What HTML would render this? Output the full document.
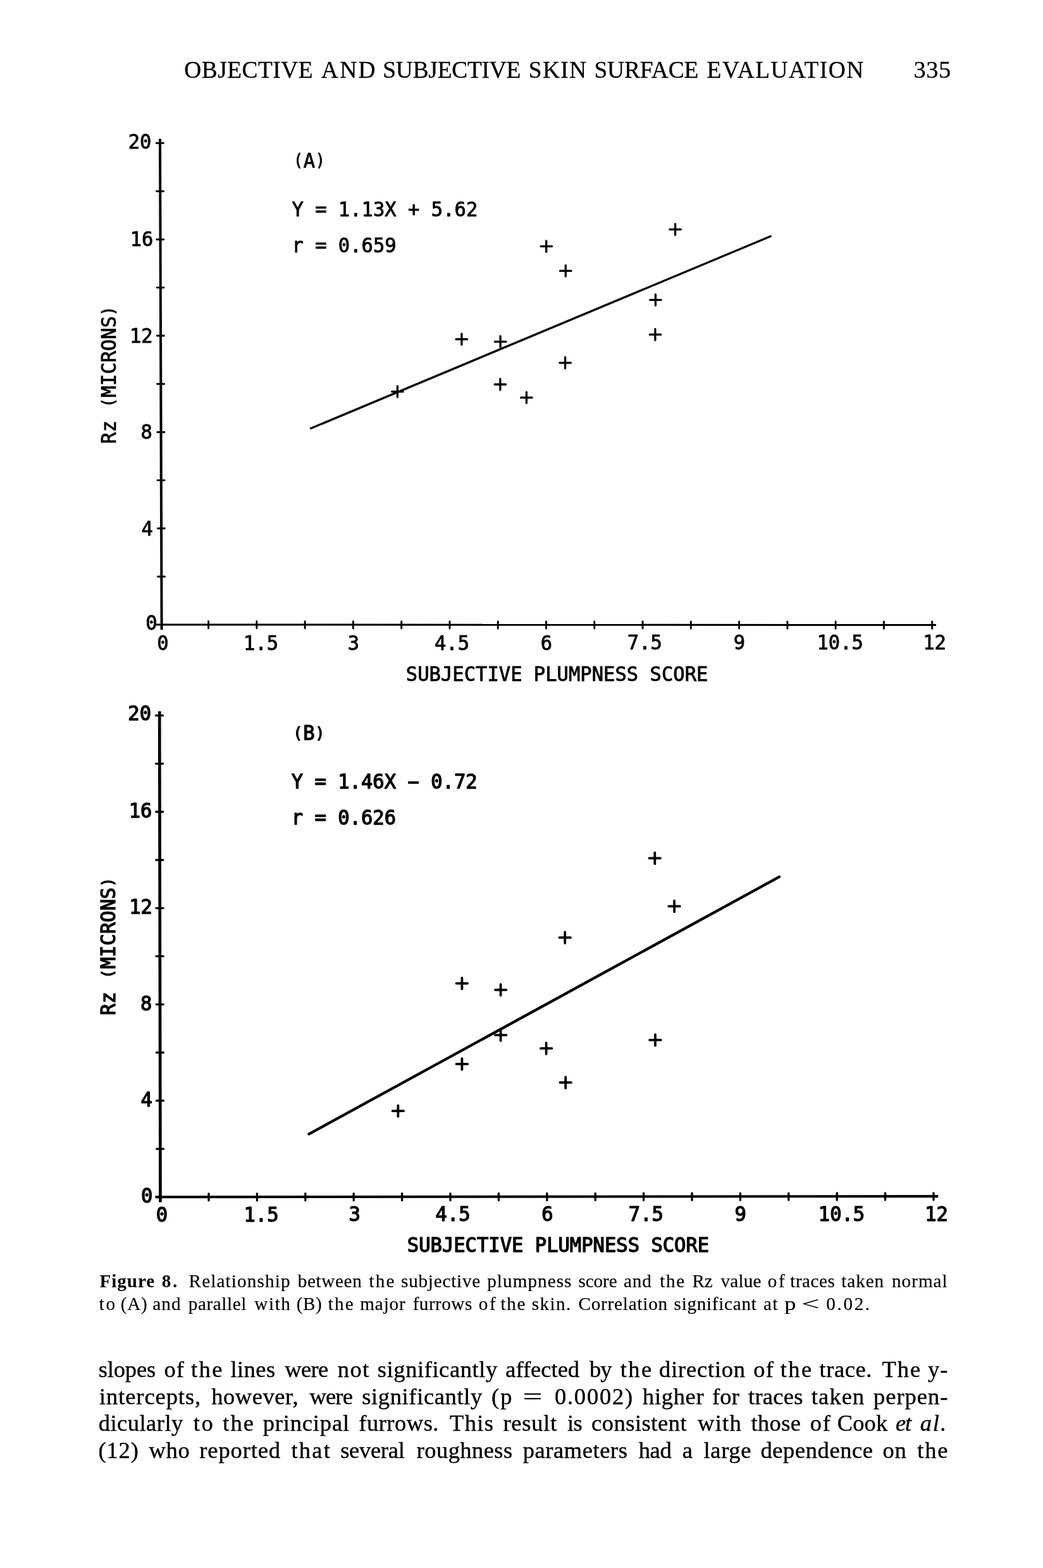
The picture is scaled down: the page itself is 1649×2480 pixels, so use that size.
<!DOCTYPE html>
<html lang="en">
<head>
<meta charset="utf-8">
<title>Objective and Subjective Skin Surface Evaluation - page 335</title>
<style>
html, body { margin: 0; padding: 0; background: #fff; }
body { width: 1649px; height: 2480px; position: relative; overflow: hidden; color: #000;
       font-family: "Liberation Serif", "DejaVu Serif", serif; }
.plots { position: absolute; left: 0; top: 0; display: block; }
.ln { position: absolute; margin: 0; padding: 0; white-space: nowrap; font-size: 0;
      line-height: 1; -webkit-text-stroke: 0.42px #000; }
.ln > * { display: inline-block; line-height: 1; vertical-align: baseline; white-space: pre; }
.ln b { font-weight: bold; }
.ln i { font-style: italic; }
.hd, .pg { -webkit-text-stroke: 0.3px #000; }
.cap { -webkit-text-stroke: 0.2px #000; }
.cap b { -webkit-text-stroke: 0; }
.hd > * { font-size: 37.4px; }
.pg > * { font-size: 38.5px; }
.cap > * { font-size: 29.2px; }
.bd > * { font-size: 36.5px; }
header, figure, figcaption, section { display: block; margin: 0; padding: 0; }

</style>
</head>
<body>
<header class="header">
<p class="ln hd" style="left:291.3px;top:91.58px"><span style="width:216.5px;letter-spacing:0.49px">OBJECTIVE</span> <span style="width:97.5px;letter-spacing:2.35px">AND</span> <span style="width:230.5px;letter-spacing:-0.23px">SUBJECTIVE</span> <span style="width:103.6px;letter-spacing:1.33px">SKIN</span> <span style="width:178.2px;letter-spacing:-0.10px">SURFACE</span> <span style="letter-spacing:1.53px">EVALUATION</span></p>
<p class="ln pg" style="left:1444.5px;top:91.36px"><span style="letter-spacing:0.45px">335</span></p>
</header>
<figure>
<svg class="plots" width="1649" height="2480" viewBox="0 0 1649 2480" font-family='"DejaVu Sans Mono", "Liberation Mono", monospace' fill="#000" stroke="#000" stroke-linejoin="round">
<g aria-label="Plot A">
<line x1="253.00" y1="219.50" x2="255.60" y2="996.00" stroke-width="4.0" stroke-linecap="butt"/>
<line x1="247.00" y1="988.00" x2="1480.00" y2="988.50" stroke-width="3.0" stroke-linecap="butt"/>
<line x1="247.27" y1="226.30" x2="258.27" y2="226.30" stroke-width="2.9" stroke-linecap="round"/>
<line x1="247.53" y1="302.49" x2="258.53" y2="302.49" stroke-width="2.9" stroke-linecap="round"/>
<line x1="247.78" y1="378.68" x2="258.78" y2="378.68" stroke-width="2.9" stroke-linecap="round"/>
<line x1="248.04" y1="454.87" x2="259.04" y2="454.87" stroke-width="2.9" stroke-linecap="round"/>
<line x1="248.29" y1="531.06" x2="259.29" y2="531.06" stroke-width="2.9" stroke-linecap="round"/>
<line x1="248.55" y1="607.25" x2="259.55" y2="607.25" stroke-width="2.9" stroke-linecap="round"/>
<line x1="248.80" y1="683.44" x2="259.80" y2="683.44" stroke-width="2.9" stroke-linecap="round"/>
<line x1="249.06" y1="759.63" x2="260.06" y2="759.63" stroke-width="2.9" stroke-linecap="round"/>
<line x1="249.31" y1="835.82" x2="260.31" y2="835.82" stroke-width="2.9" stroke-linecap="round"/>
<line x1="249.57" y1="912.01" x2="260.57" y2="912.01" stroke-width="2.9" stroke-linecap="round"/>
<line x1="329.58" y1="982.78" x2="329.58" y2="993.78" stroke-width="2.9" stroke-linecap="round"/>
<line x1="405.85" y1="982.81" x2="405.85" y2="993.81" stroke-width="2.9" stroke-linecap="round"/>
<line x1="482.12" y1="982.85" x2="482.12" y2="993.85" stroke-width="2.9" stroke-linecap="round"/>
<line x1="558.40" y1="982.88" x2="558.40" y2="993.88" stroke-width="2.9" stroke-linecap="round"/>
<line x1="634.67" y1="982.91" x2="634.67" y2="993.91" stroke-width="2.9" stroke-linecap="round"/>
<line x1="710.95" y1="982.94" x2="710.95" y2="993.94" stroke-width="2.9" stroke-linecap="round"/>
<line x1="787.23" y1="982.97" x2="787.23" y2="993.97" stroke-width="2.9" stroke-linecap="round"/>
<line x1="863.50" y1="983.00" x2="863.50" y2="994.00" stroke-width="2.9" stroke-linecap="round"/>
<line x1="939.78" y1="983.03" x2="939.78" y2="994.03" stroke-width="2.9" stroke-linecap="round"/>
<line x1="1016.05" y1="983.06" x2="1016.05" y2="994.06" stroke-width="2.9" stroke-linecap="round"/>
<line x1="1092.33" y1="983.09" x2="1092.33" y2="994.09" stroke-width="2.9" stroke-linecap="round"/>
<line x1="1168.60" y1="983.12" x2="1168.60" y2="994.12" stroke-width="2.9" stroke-linecap="round"/>
<line x1="1244.88" y1="983.15" x2="1244.88" y2="994.15" stroke-width="2.9" stroke-linecap="round"/>
<line x1="1321.15" y1="983.19" x2="1321.15" y2="994.19" stroke-width="2.9" stroke-linecap="round"/>
<line x1="1397.42" y1="983.22" x2="1397.42" y2="994.22" stroke-width="2.9" stroke-linecap="round"/>
<line x1="1473.70" y1="983.25" x2="1473.70" y2="994.25" stroke-width="2.9" stroke-linecap="round"/>
<text transform="translate(221.00 234.60) scale(0.9477 1)" text-anchor="middle" font-size="32.2" stroke-width="0.90" style="white-space:pre">20</text>
<text transform="translate(224.00 388.90) scale(0.9477 1)" text-anchor="middle" font-size="32.2" stroke-width="0.90" style="white-space:pre">16</text>
<text transform="translate(223.30 541.70) scale(0.9477 1)" text-anchor="middle" font-size="32.2" stroke-width="0.90" style="white-space:pre">12</text>
<text transform="translate(231.60 694.10) scale(0.9477 1)" text-anchor="middle" font-size="32.2" stroke-width="0.90" style="white-space:pre">8</text>
<text transform="translate(232.70 846.60) scale(0.9477 1)" text-anchor="middle" font-size="32.2" stroke-width="0.90" style="white-space:pre">4</text>
<text transform="translate(239.40 996.30) scale(0.9477 1)" text-anchor="middle" font-size="32.2" stroke-width="0.90" style="white-space:pre">0</text>
<text transform="translate(257.40 1027.50) scale(0.9477 1)" text-anchor="middle" font-size="32.2" stroke-width="0.90" style="white-space:pre">0</text>
<text transform="translate(412.60 1027.50) scale(0.9477 1)" text-anchor="middle" font-size="32.2" stroke-width="0.90" style="white-space:pre">1.5</text>
<text transform="translate(558.90 1027.80) scale(0.9477 1)" text-anchor="middle" font-size="32.2" stroke-width="0.90" style="white-space:pre">3</text>
<text transform="translate(714.50 1027.80) scale(0.9477 1)" text-anchor="middle" font-size="32.2" stroke-width="0.90" style="white-space:pre">4.5</text>
<text transform="translate(863.90 1027.80) scale(0.9477 1)" text-anchor="middle" font-size="32.2" stroke-width="0.90" style="white-space:pre">6</text>
<text transform="translate(1019.40 1027.40) scale(0.9477 1)" text-anchor="middle" font-size="32.2" stroke-width="0.90" style="white-space:pre">7.5</text>
<text transform="translate(1169.00 1027.40) scale(0.9477 1)" text-anchor="middle" font-size="32.2" stroke-width="0.90" style="white-space:pre">9</text>
<text transform="translate(1328.20 1026.80) scale(0.9477 1)" text-anchor="middle" font-size="32.2" stroke-width="0.90" style="white-space:pre">10.5</text>
<text transform="translate(1477.50 1026.80) scale(0.9477 1)" text-anchor="middle" font-size="32.2" stroke-width="0.90" style="white-space:pre">12</text>
<text transform="translate(880.60 1077.40) scale(0.9477 1)" text-anchor="middle" font-size="32.2" stroke-width="0.90" style="white-space:pre">SUBJECTIVE PLUMPNESS SCORE</text>
<text transform="translate(182.60 593.20) rotate(-90) scale(0.9477 1)" text-anchor="middle" font-size="32.2" stroke-width="0.90" style="white-space:pre">Rz <tspan font-size="25.8" dx="2.9" dy="-2.6">(</tspan><tspan dx="1.0" dy="2.6">MICRONS</tspan><tspan font-size="25.8" dx="0.8" dy="-2.6">)</tspan></text>
<text transform="translate(461.40 265.00) scale(0.9477 1)" text-anchor="start" font-size="32.2" stroke-width="0.90" style="white-space:pre"><tspan font-size="25.8" dx="2.9" dy="-2.6">(</tspan><tspan dx="1.0" dy="2.6">A</tspan><tspan font-size="25.8" dx="0.8" dy="-2.6">)</tspan></text>
<text transform="translate(461.40 342.00) scale(0.9477 1)" text-anchor="start" font-size="32.2" stroke-width="0.90" style="white-space:pre">Y = 1.13X + 5.62</text>
<text transform="translate(461.40 399.40) scale(0.9477 1)" text-anchor="start" font-size="32.2" stroke-width="0.90" style="white-space:pre">r = 0.659</text>
<line x1="491.50" y1="677.50" x2="1218.20" y2="373.70" stroke-width="3.4" stroke-linecap="round"/>
<path d="M619.6 619.4H637.1M628.4 610.6V628.1" stroke-width="3.3" stroke-linecap="round"/>
<path d="M721.1 536.5H738.6M729.9 527.8V545.2" stroke-width="3.3" stroke-linecap="round"/>
<path d="M782.4 540.4H799.9M791.1 531.6V549.1" stroke-width="3.3" stroke-linecap="round"/>
<path d="M782.1 608.0H799.6M790.9 599.2V616.8" stroke-width="3.3" stroke-linecap="round"/>
<path d="M823.6 628.9H841.1M832.4 620.1V637.6" stroke-width="3.3" stroke-linecap="round"/>
<path d="M855.0 389.6H872.5M863.7 380.9V398.4" stroke-width="3.3" stroke-linecap="round"/>
<path d="M885.5 428.4H903.0M894.3 419.6V437.1" stroke-width="3.3" stroke-linecap="round"/>
<path d="M1058.8 362.9H1076.3M1067.6 354.1V371.6" stroke-width="3.3" stroke-linecap="round"/>
<path d="M1027.7 474.3H1045.2M1036.4 465.6V483.1" stroke-width="3.3" stroke-linecap="round"/>
<path d="M1027.2 529.2H1044.7M1035.9 520.5V538.0" stroke-width="3.3" stroke-linecap="round"/>
<path d="M884.9 573.8H902.4M893.6 565.0V582.5" stroke-width="3.3" stroke-linecap="round"/>
</g>
<g aria-label="Plot B">
<line x1="252.20" y1="1125.00" x2="253.50" y2="1901.50" stroke-width="4.7" stroke-linecap="butt"/>
<line x1="245.50" y1="1893.20" x2="1483.20" y2="1892.10" stroke-width="4.1" stroke-linecap="butt"/>
<line x1="246.46" y1="1131.70" x2="257.46" y2="1131.70" stroke-width="3.3" stroke-linecap="round"/>
<line x1="246.59" y1="1207.85" x2="257.59" y2="1207.85" stroke-width="3.3" stroke-linecap="round"/>
<line x1="246.72" y1="1284.00" x2="257.72" y2="1284.00" stroke-width="3.3" stroke-linecap="round"/>
<line x1="246.84" y1="1360.15" x2="257.84" y2="1360.15" stroke-width="3.3" stroke-linecap="round"/>
<line x1="246.97" y1="1436.30" x2="257.97" y2="1436.30" stroke-width="3.3" stroke-linecap="round"/>
<line x1="247.10" y1="1512.45" x2="258.10" y2="1512.45" stroke-width="3.3" stroke-linecap="round"/>
<line x1="247.23" y1="1588.60" x2="258.23" y2="1588.60" stroke-width="3.3" stroke-linecap="round"/>
<line x1="247.35" y1="1664.75" x2="258.35" y2="1664.75" stroke-width="3.3" stroke-linecap="round"/>
<line x1="247.48" y1="1740.90" x2="258.48" y2="1740.90" stroke-width="3.3" stroke-linecap="round"/>
<line x1="247.61" y1="1817.05" x2="258.61" y2="1817.05" stroke-width="3.3" stroke-linecap="round"/>
<line x1="330.00" y1="1887.87" x2="330.00" y2="1898.87" stroke-width="3.3" stroke-linecap="round"/>
<line x1="406.40" y1="1887.81" x2="406.40" y2="1898.81" stroke-width="3.3" stroke-linecap="round"/>
<line x1="482.80" y1="1887.74" x2="482.80" y2="1898.74" stroke-width="3.3" stroke-linecap="round"/>
<line x1="559.20" y1="1887.67" x2="559.20" y2="1898.67" stroke-width="3.3" stroke-linecap="round"/>
<line x1="635.60" y1="1887.60" x2="635.60" y2="1898.60" stroke-width="3.3" stroke-linecap="round"/>
<line x1="712.00" y1="1887.54" x2="712.00" y2="1898.54" stroke-width="3.3" stroke-linecap="round"/>
<line x1="788.40" y1="1887.47" x2="788.40" y2="1898.47" stroke-width="3.3" stroke-linecap="round"/>
<line x1="864.80" y1="1887.40" x2="864.80" y2="1898.40" stroke-width="3.3" stroke-linecap="round"/>
<line x1="941.20" y1="1887.33" x2="941.20" y2="1898.33" stroke-width="3.3" stroke-linecap="round"/>
<line x1="1017.60" y1="1887.26" x2="1017.60" y2="1898.26" stroke-width="3.3" stroke-linecap="round"/>
<line x1="1094.00" y1="1887.20" x2="1094.00" y2="1898.20" stroke-width="3.3" stroke-linecap="round"/>
<line x1="1170.40" y1="1887.13" x2="1170.40" y2="1898.13" stroke-width="3.3" stroke-linecap="round"/>
<line x1="1246.80" y1="1887.06" x2="1246.80" y2="1898.06" stroke-width="3.3" stroke-linecap="round"/>
<line x1="1323.20" y1="1886.99" x2="1323.20" y2="1897.99" stroke-width="3.3" stroke-linecap="round"/>
<line x1="1399.60" y1="1886.92" x2="1399.60" y2="1897.92" stroke-width="3.3" stroke-linecap="round"/>
<line x1="1476.00" y1="1886.86" x2="1476.00" y2="1897.86" stroke-width="3.3" stroke-linecap="round"/>
<text transform="translate(220.70 1139.40) scale(0.9780 1)" text-anchor="middle" font-size="31.2" stroke-width="1.38" style="white-space:pre">20</text>
<text transform="translate(222.00 1293.00) scale(0.9780 1)" text-anchor="middle" font-size="31.2" stroke-width="1.38" style="white-space:pre">16</text>
<text transform="translate(222.50 1445.30) scale(0.9780 1)" text-anchor="middle" font-size="31.2" stroke-width="1.38" style="white-space:pre">12</text>
<text transform="translate(231.20 1597.90) scale(0.9780 1)" text-anchor="middle" font-size="31.2" stroke-width="1.38" style="white-space:pre">8</text>
<text transform="translate(231.60 1749.80) scale(0.9780 1)" text-anchor="middle" font-size="31.2" stroke-width="1.38" style="white-space:pre">4</text>
<text transform="translate(232.10 1901.50) scale(0.9780 1)" text-anchor="middle" font-size="31.2" stroke-width="1.38" style="white-space:pre">0</text>
<text transform="translate(256.00 1931.60) scale(0.9780 1)" text-anchor="middle" font-size="31.2" stroke-width="1.38" style="white-space:pre">0</text>
<text transform="translate(413.00 1931.60) scale(0.9780 1)" text-anchor="middle" font-size="31.2" stroke-width="1.38" style="white-space:pre">1.5</text>
<text transform="translate(560.60 1930.90) scale(0.9780 1)" text-anchor="middle" font-size="31.2" stroke-width="1.38" style="white-space:pre">3</text>
<text transform="translate(716.10 1930.90) scale(0.9780 1)" text-anchor="middle" font-size="31.2" stroke-width="1.38" style="white-space:pre">4.5</text>
<text transform="translate(865.40 1930.90) scale(0.9780 1)" text-anchor="middle" font-size="31.2" stroke-width="1.38" style="white-space:pre">6</text>
<text transform="translate(1021.40 1930.90) scale(0.9780 1)" text-anchor="middle" font-size="31.2" stroke-width="1.38" style="white-space:pre">7.5</text>
<text transform="translate(1170.60 1930.90) scale(0.9780 1)" text-anchor="middle" font-size="31.2" stroke-width="1.38" style="white-space:pre">9</text>
<text transform="translate(1330.50 1930.90) scale(0.9780 1)" text-anchor="middle" font-size="31.2" stroke-width="1.38" style="white-space:pre">10.5</text>
<text transform="translate(1480.60 1930.90) scale(0.9780 1)" text-anchor="middle" font-size="31.2" stroke-width="1.38" style="white-space:pre">12</text>
<text transform="translate(882.50 1980.20) scale(0.9780 1)" text-anchor="middle" font-size="31.2" stroke-width="1.38" style="white-space:pre">SUBJECTIVE PLUMPNESS SCORE</text>
<text transform="translate(182.00 1496.90) rotate(-90) scale(0.9780 1)" text-anchor="middle" font-size="31.2" stroke-width="1.38" style="white-space:pre">Rz <tspan font-size="25.0" dx="2.8" dy="-2.6">(</tspan><tspan dx="1.0" dy="2.6">MICRONS</tspan><tspan font-size="25.0" dx="0.8" dy="-2.6">)</tspan></text>
<text transform="translate(460.80 1170.40) scale(0.9780 1)" text-anchor="start" font-size="31.2" stroke-width="1.38" style="white-space:pre"><tspan font-size="25.0" dx="2.8" dy="-2.6">(</tspan><tspan dx="1.0" dy="2.6">B</tspan><tspan font-size="25.0" dx="0.8" dy="-2.6">)</tspan></text>
<text transform="translate(460.80 1246.70) scale(0.9780 1)" text-anchor="start" font-size="31.2" stroke-width="1.38" style="white-space:pre">Y = 1.46X <tspan dx="-8.45" textLength="35.69" lengthAdjust="spacingAndGlyphs">-</tspan><tspan dx="-8.45"> 0.72</tspan></text>
<text transform="translate(460.80 1304.30) scale(0.9780 1)" text-anchor="start" font-size="31.2" stroke-width="1.38" style="white-space:pre">r = 0.626</text>
<line x1="488.50" y1="1793.60" x2="1232.00" y2="1386.80" stroke-width="4.3" stroke-linecap="round"/>
<path d="M620.6 1757.1H638.1M629.4 1748.3V1765.8" stroke-width="3.8" stroke-linecap="round"/>
<path d="M721.6 1682.9H739.1M730.4 1674.2V1691.7" stroke-width="3.8" stroke-linecap="round"/>
<path d="M721.6 1555.4H739.1M730.4 1546.7V1564.2" stroke-width="3.8" stroke-linecap="round"/>
<path d="M782.9 1565.6H800.4M791.6 1556.8V1574.3" stroke-width="3.8" stroke-linecap="round"/>
<path d="M782.9 1637.2H800.4M791.6 1628.5V1646.0" stroke-width="3.8" stroke-linecap="round"/>
<path d="M854.9 1658.2H872.4M863.6 1649.5V1667.0" stroke-width="3.8" stroke-linecap="round"/>
<path d="M885.5 1712.2H903.0M894.2 1703.5V1721.0" stroke-width="3.8" stroke-linecap="round"/>
<path d="M884.5 1482.9H902.0M893.2 1474.2V1491.7" stroke-width="3.8" stroke-linecap="round"/>
<path d="M1026.5 1357.4H1044.0M1035.3 1348.7V1366.2" stroke-width="3.8" stroke-linecap="round"/>
<path d="M1057.3 1433.4H1074.8M1066.1 1424.7V1442.2" stroke-width="3.8" stroke-linecap="round"/>
<path d="M1027.2 1644.9H1044.8M1036.0 1636.2V1653.7" stroke-width="3.8" stroke-linecap="round"/>
</g>
</svg>
<figcaption class="caption">
<p class="ln cap" style="left:157.4px;top:2012.14px"><b style="width:98.3px;letter-spacing:0.94px">Figure</b> <b style="width:42.9px;letter-spacing:2.60px">8.</b> <span style="width:172.2px;letter-spacing:1.13px">Relationship</span> <span style="width:112.7px;letter-spacing:0.62px">between</span> <span style="width:50.6px;letter-spacing:2.20px">the</span> <span style="width:136.2px;letter-spacing:0.76px">subjective</span> <span style="width:144.2px;letter-spacing:1.04px">plumpness</span> <span style="width:71.5px;letter-spacing:-0.10px">score</span> <span style="width:57.3px;letter-spacing:0.90px">and</span> <span style="width:51.4px;letter-spacing:1.65px">the</span> <span style="width:44.9px;letter-spacing:-0.40px">Rz</span> <span style="width:74.2px;letter-spacing:0.20px">value</span> <span style="width:35.6px;letter-spacing:2.60px">of</span> <span style="width:81.0px;letter-spacing:0.50px">traces</span> <span style="width:79.7px;letter-spacing:0.90px">taken</span> <span style="letter-spacing:1.00px">normal</span></p>
<p class="ln cap" style="left:156.7px;top:2047.55px"><span style="width:34.1px;letter-spacing:2.60px">to</span> <span style="width:50.4px;letter-spacing:0.65px">(A)</span> <span style="width:56.7px;letter-spacing:1.15px">and</span> <span style="width:104.4px;letter-spacing:0.57px">parallel</span> <span style="width:66.6px;letter-spacing:1.60px">with</span> <span style="width:49.8px;letter-spacing:0.50px">(B)</span> <span style="width:50.7px;letter-spacing:2.20px">the</span> <span style="width:83.3px;letter-spacing:0.83px">major</span> <span style="width:104.1px;letter-spacing:0.48px">furrows</span> <span style="width:34.7px;letter-spacing:2.60px">of</span> <span style="width:49.4px;letter-spacing:1.75px">the</span> <span style="width:73.6px;letter-spacing:1.38px">skin.</span> <span style="width:151.2px;letter-spacing:0.79px">Correlation</span> <span style="width:141.3px;letter-spacing:0.70px">significant</span> <span style="width:35.6px;letter-spacing:1.60px">at</span> <span style="width:30.8px;transform:scaleX(1.25);transform-origin:7.0px 50%">p</span> <span style="width:33.1px;transform:scaleX(1.75);transform-origin:8.5px 50%">&lt;</span> <span style="letter-spacing:2.60px">0.02.</span></p>
</figcaption>
</figure>
<section class="body">
<p class="ln bd" style="left:155.7px;top:2147.83px"><span style="width:103.8px;letter-spacing:-0.16px">slopes</span> <span style="width:42.5px;letter-spacing:1.00px">of</span> <span style="width:62.4px;letter-spacing:2.40px">the</span> <span style="width:85.9px;letter-spacing:0.45px">lines</span> <span style="width:83.4px;letter-spacing:-0.63px">were</span> <span style="width:63.2px;letter-spacing:1.50px">not</span> <span style="width:202.4px;letter-spacing:0.57px">significantly</span> <span style="width:132.7px">affected</span> <span style="width:48.8px;letter-spacing:-1.00px">by</span> <span style="width:61.4px;letter-spacing:2.45px">the</span> <span style="width:149.2px;letter-spacing:0.78px">direction</span> <span style="width:42.4px;letter-spacing:1.10px">of</span> <span style="width:61.8px;letter-spacing:2.45px">the</span> <span style="width:98.9px;letter-spacing:0.58px">trace.</span> <span style="width:72.5px;letter-spacing:2.00px">The</span> <span style="letter-spacing:1.00px">y-</span></p>
<p class="ln bd" style="left:156.9px;top:2190.93px"><span style="width:177.3px;letter-spacing:0.93px">intercepts,</span> <span style="width:155.2px;letter-spacing:0.57px">however,</span> <span style="width:82.9px;letter-spacing:-0.80px">were</span> <span style="width:204.8px;letter-spacing:0.62px">significantly</span> <span style="width:55.0px;letter-spacing:2.00px">(p</span> <span style="width:44.9px;transform:scaleX(1.49);transform-origin:10.5px 50%">=</span> <span style="width:139.0px;letter-spacing:1.77px">0.0002)</span> <span style="width:110.0px;letter-spacing:0.68px">higher</span> <span style="width:57.1px;letter-spacing:0.25px">for</span> <span style="width:99.8px;letter-spacing:0.24px">traces</span> <span style="width:98.2px;letter-spacing:1.12px">taken</span> <span style="letter-spacing:0.98px">perpen-</span></p>
<p class="ln bd" style="left:155.7px;top:2233.33px"><span style="width:150.1px;letter-spacing:0.49px">dicularly</span> <span style="width:46.4px;letter-spacing:2.60px">to</span> <span style="width:63.6px;letter-spacing:2.10px">the</span> <span style="width:151.5px;letter-spacing:0.82px">principal</span> <span style="width:143.8px;letter-spacing:0.51px">furrows.</span> <span style="width:84.4px;letter-spacing:1.33px">This</span> <span style="width:101.6px;letter-spacing:0.76px">result</span> <span style="width:38.0px;letter-spacing:-0.80px">is</span> <span style="width:167.9px;letter-spacing:0.50px">consistent</span> <span style="width:84.6px;letter-spacing:1.33px">with</span> <span style="width:93.1px;letter-spacing:0.35px">those</span> <span style="width:43.0px;letter-spacing:1.80px">of</span> <span style="width:92.3px;letter-spacing:0.20px">Cook</span> <i style="width:38.8px;letter-spacing:-1.00px">et</i> <i style="letter-spacing:1.90px">al.</i></p>
<p class="ln bd" style="left:155.4px;top:2276.43px"><span style="width:80.1px;letter-spacing:0.87px">(12)</span> <span style="width:79.8px;letter-spacing:0.75px">who</span> <span style="width:145.1px;letter-spacing:0.89px">reported</span> <span style="width:77.8px;letter-spacing:2.30px">that</span> <span style="width:120.5px;letter-spacing:-0.27px">several</span> <span style="width:168.1px;letter-spacing:0.44px">roughness</span> <span style="width:182.9px;letter-spacing:0.56px">parameters</span> <span style="width:69.1px;letter-spacing:-0.30px">had</span> <span style="width:33.7px">a</span> <span style="width:90.0px;letter-spacing:0.70px">large</span> <span style="width:193.1px;letter-spacing:0.59px">dependence</span> <span style="width:54.7px;letter-spacing:0.70px">on</span> <span style="letter-spacing:1.85px">the</span></p>
</section>
</body>
</html>
